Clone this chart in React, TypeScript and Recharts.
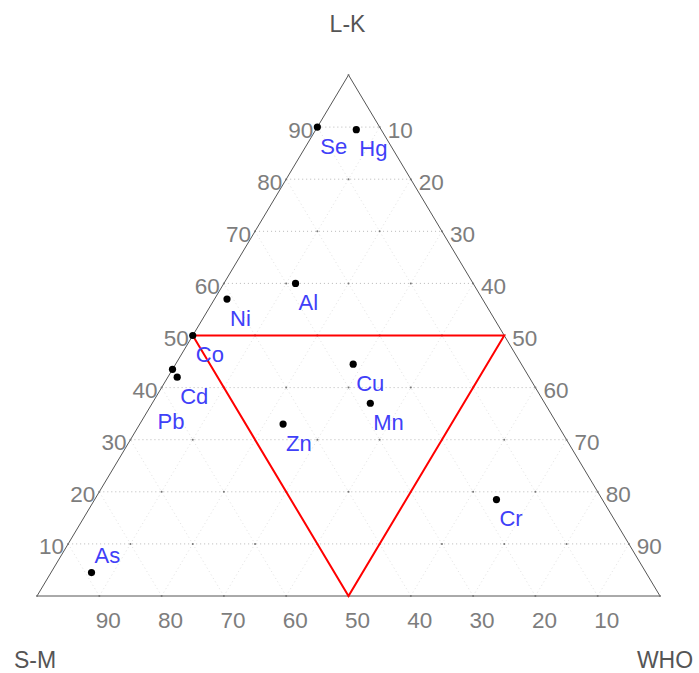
import React from "react";
import { ScatterChart, Scatter, XAxis, YAxis, ReferenceLine } from "recharts";

// Ternary components: LK (top), WHO (bottom-right), SM (bottom-left)
const elements = ["Se", "Hg", "Al", "Ni", "Co", "Pb", "Cd", "Zn", "Cu", "Mn", "Cr", "As"];
const lkValues = [90, 89.5, 60, 57, 50, 43.5, 42, 33, 44.5, 37, 18.5, 4.5];
const whoValues = [0, 6.5, 11.5, 2, 0, 0, 1.5, 23, 28.5, 35, 64.5, 6.5];
const smValues = [10, 4, 28.5, 41, 50, 56.5, 56.5, 44, 27, 28, 17, 89];

const gridLevels = [10, 20, 30, 40, 50, 60, 70, 80, 90];
const leftTicks = ["10", "20", "30", "40", "50", "60", "70", "80", "90"];
const rightTicks = ["10", "20", "30", "40", "50", "60", "70", "80", "90"];
const bottomTicks = ["90", "80", "70", "60", "50", "40", "30", "20", "10"];
const axisTitles = ["L-K", "S-M", "WHO"];

// red reference triangle (LK, WHO) vertices
const triLK = [50, 50, 0, 50];
const triWHO = [0, 50, 50, 0];

const FONT = "'Liberation Sans', Arial, sans-serif";
const LABEL_BLUE = "#4040f8";
const TICK_GRAY = "#7d7d7d";

const toXY = (lk: number, who: number) => ({ x: who + lk / 2, y: lk });

const pointData = elements.map((name, i) => ({
  name,
  sm: smValues[i],
  ...toXY(lkValues[i], whoValues[i]),
}));

const labelOffset: Record<string, [number, number]> = {
  Pb: [-15, 52],
  As: [3, -17],
};

const leftTickData = gridLevels.map((v, i) => ({ ...toXY(v, 0), label: leftTicks[i] }));
const rightTickData = gridLevels.map((v, i) => ({ ...toXY(100 - v, v), label: rightTicks[i] }));
const bottomTickData = gridLevels.map((v, i) => ({ ...toXY(0, v), label: bottomTicks[i] }));
const titleData = [
  { ...toXY(100, 0), label: axisTitles[0], dx: -1, dy: -51, anchor: "middle" },
  { ...toXY(0, 0), label: axisTitles[1], dx: -2, dy: 64, anchor: "middle" },
  { ...toXY(0, 100), label: axisTitles[2], dx: 5, dy: 64, anchor: "middle" },
];
const triData = triLK.map((lk, i) => toXY(lk, triWHO[i]));

const intersections: { x: number; y: number }[] = [];
[0, ...gridLevels, 100].forEach((lk) => {
  [0, ...gridLevels, 100].forEach((who) => {
    if (lk + who <= 100) intersections.push(toXY(lk, who));
  });
});

const edges = [
  [toXY(0, 0), toXY(0, 100)],
  [toXY(0, 0), toXY(100, 0)],
  [toXY(100, 0), toXY(0, 100)],
];

const gridSegments: { seg: { x: number; y: number }[]; horiz: boolean }[] = [];
gridLevels.forEach((v) => {
  // constant L-K
  gridSegments.push({ seg: [toXY(v, 0), toXY(v, 100 - v)], horiz: true });
  // constant WHO
  gridSegments.push({ seg: [toXY(0, v), toXY(100 - v, v)], horiz: false });
  // constant S-M
  gridSegments.push({ seg: [toXY(0, 100 - v), toXY(100 - v, 0)], horiz: false });
});

const PointShape = (props: any) => {
  const { cx, cy, payload } = props;
  const off = labelOffset[payload.name] || [3, 19];
  return (
    <g>
      <circle cx={cx} cy={cy} r={3.6} fill="#000" />
      <text
        x={cx + off[0]}
        y={cy + off[1]}
        fill={LABEL_BLUE}
        fontSize={22}
        fontFamily={FONT}
        textAnchor="start"
        dominantBaseline="central"
      >
        {payload.name}
      </text>
    </g>
  );
};

const makeTickShape = (dx: number, dy: number, anchor: string) => (props: any) => {
  const { cx, cy, payload } = props;
  return (
    <text
      x={cx + dx}
      y={cy + dy}
      fill={TICK_GRAY}
      fontSize={22.5}
      fontFamily={FONT}
      textAnchor={anchor as any}
      dominantBaseline="central"
    >
      {payload.label}
    </text>
  );
};

const TitleShape = (props: any) => {
  const { cx, cy, payload } = props;
  return (
    <text
      x={cx + payload.dx}
      y={cy + payload.dy}
      fill="#555"
      fontSize={23}
      fontFamily={FONT}
      textAnchor={payload.anchor}
      dominantBaseline="central"
    >
      {payload.label}
    </text>
  );
};

const TinyDot = (props: any) => <circle cx={props.cx} cy={props.cy} r={1} fill="#777" />;
const NoShape = () => <g />;

export default function App() {
  return (
    <div style={{ position: "absolute", left: 0, top: 0, background: "#fff" }}>
      <ScatterChart
        width={699}
        height={673}
        margin={{ top: 75, right: 39, bottom: 77, left: 37 }}
      >
        <XAxis type="number" dataKey="x" domain={[0, 100]} hide />
        <YAxis type="number" dataKey="y" domain={[0, 100]} hide />
        {gridSegments.map((g, i) => (
          <ReferenceLine
            key={"g" + i}
            segment={g.seg}
            stroke={g.horiz ? "#b8b8b8" : "#e2e2e2"}
            strokeWidth={1}
            strokeDasharray="1 3"
            ifOverflow="visible"
          />
        ))}
        {edges.map((e, i) => (
          <ReferenceLine key={"e" + i} segment={e} stroke="#555" strokeWidth={1} ifOverflow="visible" />
        ))}
        <Scatter data={intersections} shape={TinyDot} isAnimationActive={false} />
        <Scatter
          data={triData}
          line={{ stroke: "#ff0000", strokeWidth: 2 }}
          shape={NoShape}
          isAnimationActive={false}
        />
        <Scatter data={pointData} shape={PointShape} isAnimationActive={false} />
        <Scatter data={leftTickData} shape={makeTickShape(-4, 3, "end")} isAnimationActive={false} />
        <Scatter data={rightTickData} shape={makeTickShape(8, 3, "start")} isAnimationActive={false} />
        <Scatter data={bottomTickData} shape={makeTickShape(9, 24, "middle")} isAnimationActive={false} />
        <Scatter data={titleData} shape={TitleShape} isAnimationActive={false} />
      </ScatterChart>
    </div>
  );
}
